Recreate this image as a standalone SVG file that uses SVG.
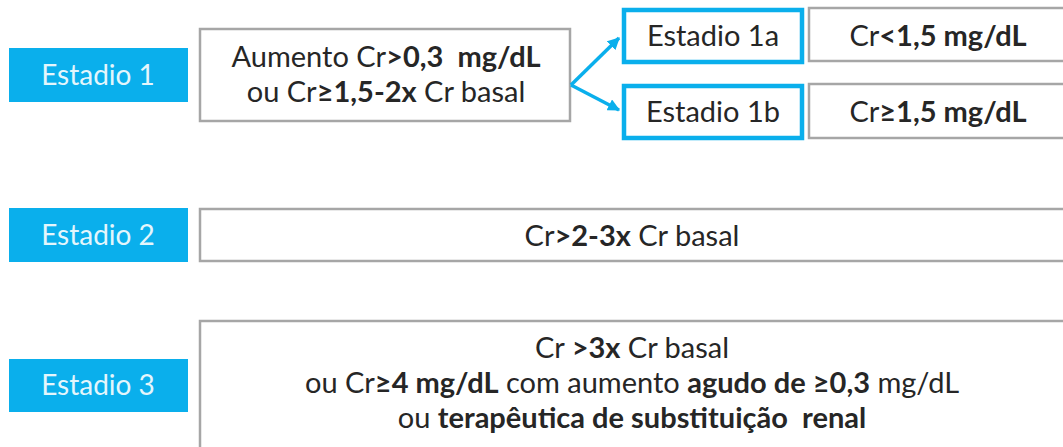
<svg xmlns="http://www.w3.org/2000/svg" width="1063" height="447" viewBox="0 0 1063 447">
<style>
.lbl{fill:#0AAFEC}
.lt{font-family:Lato,"Open Sans","Liberation Sans",sans-serif;font-size:28px;fill:#E4F6FC;text-anchor:middle}
.box{fill:#fff;stroke:#A6A6A6;stroke-width:2.5}
.sub{fill:#fff;stroke:#0AAFEC;stroke-width:4.5}
.t{font-family:Lato,"Open Sans","Liberation Sans",sans-serif;font-size:29px;fill:#262626;text-anchor:middle}
.b{font-weight:bold}
.con{stroke:#0AAFEC;stroke-width:3.5;fill:none}
</style>
<defs>
<marker id="ah" viewBox="0 0 10 10" refX="9" refY="5" markerWidth="3.5" markerHeight="3.5" orient="auto" markerUnits="strokeWidth">
<path d="M0,0 L10,5 L0,10 z" fill="#0AAFEC"/>
</marker>
</defs>
<rect width="1063" height="447" fill="#fff"/>
<g id="estadio1">
<rect class="lbl" x="9" y="48" width="179" height="54"/>
<text class="lt" x="98" y="85">Estadio 1</text>
</g>
<g id="crit1">
<rect class="box" x="200" y="29" width="370" height="92"/>
<text class="t" x="386" y="67" xml:space="preserve">Aumento Cr<tspan class="b">&gt;0,3  mg/dL</tspan></text>
<text class="t" x="386" y="102">ou Cr<tspan class="b">≥1,5-2x</tspan> Cr basal</text>
</g>
<g id="estadio1a">
<rect class="sub" x="624" y="10" width="178" height="52"/>
<text class="t" x="713" y="46">Estadio 1a</text>
</g>
<g id="crit1a">
<rect class="box" x="809" y="8" width="270" height="53"/>
<text class="t" x="938" y="46">Cr<tspan class="b">&lt;1,5 mg/dL</tspan></text>
</g>
<g id="estadio1b">
<rect class="sub" x="624" y="86" width="178" height="52"/>
<text class="t" x="713" y="122">Estadio 1b</text>
</g>
<g id="crit1b">
<rect class="box" x="809" y="84" width="270" height="54"/>
<text class="t" x="938" y="122">Cr<tspan class="b">≥1,5 mg/dL</tspan></text>
</g>
<g id="estadio2">
<rect class="lbl" x="9" y="208" width="179" height="54"/>
<text class="lt" x="98" y="245">Estadio 2</text>
</g>
<g id="crit2">
<rect class="box" x="200" y="209" width="880" height="52"/>
<text class="t" x="632" y="246">Cr<tspan class="b">&gt;2-3x</tspan> Cr basal</text>
</g>
<g id="estadio3">
<rect class="lbl" x="9" y="359" width="179" height="53"/>
<text class="lt" x="98" y="395">Estadio 3</text>
</g>
<g id="crit3">
<rect class="box" x="200" y="321" width="880" height="140"/>
<text class="t" x="632" y="358">Cr <tspan class="b">&gt;3x</tspan> Cr basal</text>
<text class="t" x="632" y="393">ou Cr<tspan class="b">≥4 mg/dL</tspan> com aumento <tspan class="b">agudo de ≥0,3</tspan> mg/dL</text>
<text class="t" x="632" y="428" xml:space="preserve">ou <tspan class="b">terapêutica de substituição  renal</tspan></text>
</g>
<g id="connectors">
<line class="con" x1="571" y1="85" x2="619" y2="38" marker-end="url(#ah)"/>
<line class="con" x1="571" y1="85" x2="619" y2="110" marker-end="url(#ah)"/>
</g>
</svg>
